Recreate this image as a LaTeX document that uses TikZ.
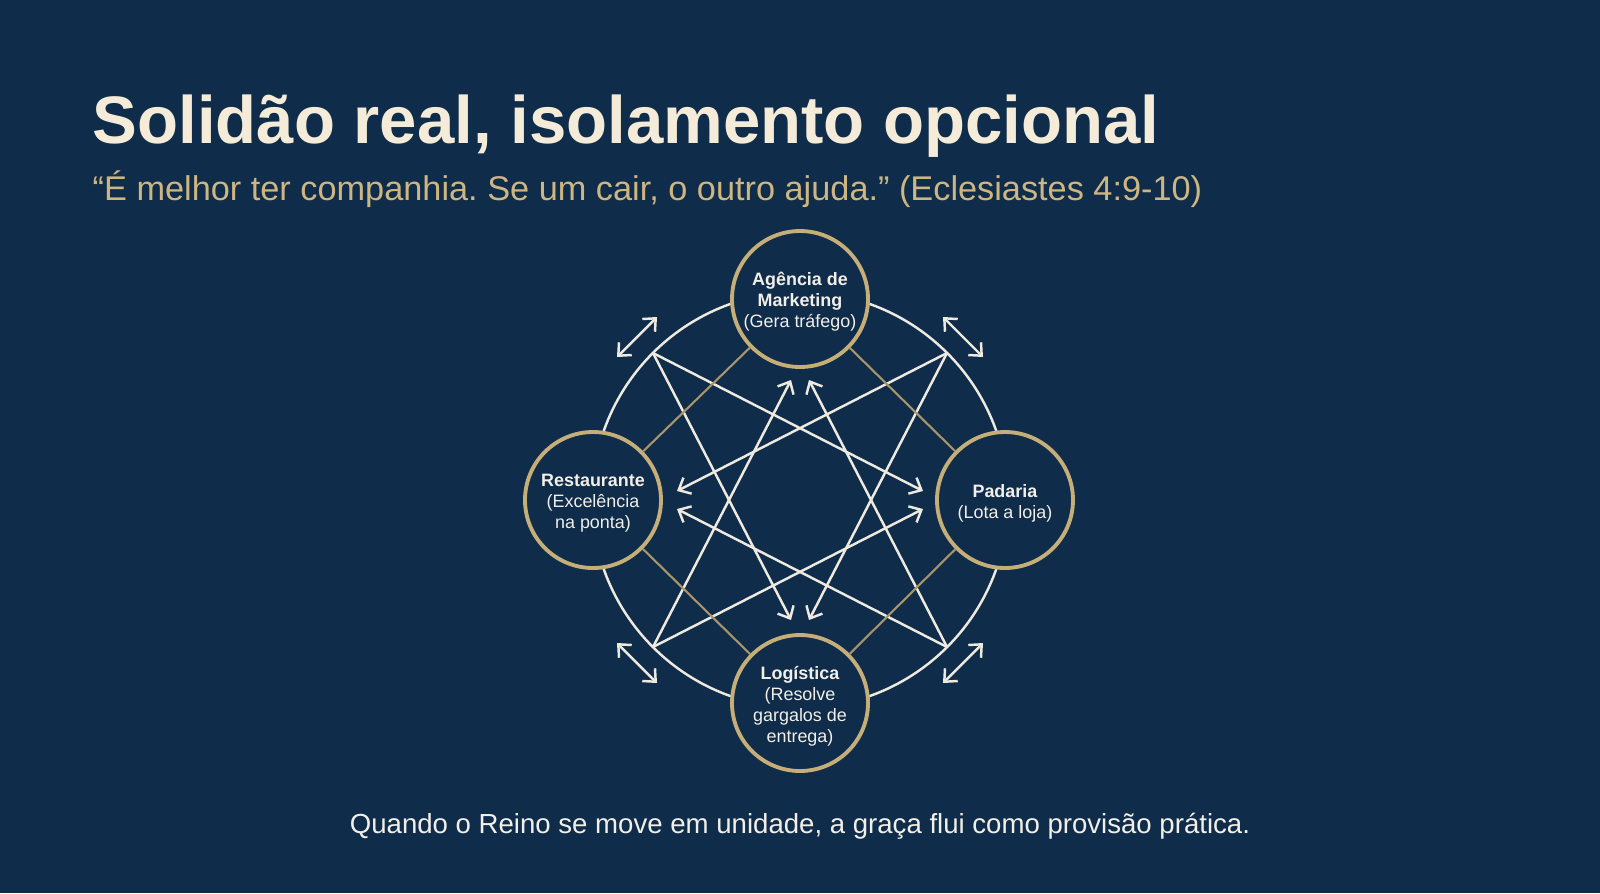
\documentclass[tikz,border=0pt]{standalone}
\usepackage{fontspec}
\setmainfont{Liberation Sans}
\usetikzlibrary{arrows.meta}
\definecolor{bg}{HTML}{0F2C4A}
\definecolor{titlecol}{HTML}{F4ECD8}
\definecolor{subcol}{HTML}{CDB681}
\definecolor{ringcol}{HTML}{C6AE78}
\definecolor{goldln}{HTML}{A8956A}
\definecolor{whiteln}{HTML}{EEEADF}
\definecolor{txtcol}{HTML}{F2EFE8}
\frenchspacing
\begin{document}
\begin{tikzpicture}[x=0.1mm,y=-0.1mm,
  hub/.style={circle, draw=ringcol, line width=1.1pt, fill=bg, minimum size=13.6mm, inner sep=0pt,
    align=center, text=txtcol, font=\fontsize{5.1pt}{6pt}\selectfont},
  goldlink/.style={draw=goldln, line width=0.6pt},
  wline/.style={draw=whiteln, line width=0.7pt},
  onetip/.style={-{Straight Barb[length=1mm,width=1.8mm]}},
  twotip/.style={{Straight Barb[length=1mm,width=1.8mm]}-{Straight Barb[length=1mm,width=1.8mm]}}
]
\fill[bg] (0,0) rectangle (1600,893);
\useasboundingbox (0,0) rectangle (1600,893);

% texts
\node[anchor=base west, inner sep=0pt, text=titlecol, font=\fontsize{19.1pt}{22pt}\selectfont\bfseries] (title) at (92,143) {Solidão real, isolamento opcional};
\node[anchor=base west, inner sep=0pt, text=subcol, font=\fontsize{9.76pt}{12pt}\selectfont] (sub) at (92,200) {“É melhor ter companhia. Se um cair, o outro ajuda.” (Eclesiastes 4:9-10)};
\node[anchor=base, inner sep=0pt, text=txtcol, font=\fontsize{7.85pt}{10pt}\selectfont] (foot) at (800,833) {Quando o Reino se move em unidade, a graça flui como provisão prática.};

% big ring
\coordinate (c) at (800,500);
\draw[wline] (c) circle[radius=208];

% star vertices
\coordinate (vNW) at (653,353);
\coordinate (vNE) at (947,353);
\coordinate (vSW) at (653,647);
\coordinate (vSE) at (947,647);
% arrow tips
\coordinate (tNl) at (791,380);
\coordinate (tNr) at (809,380);
\coordinate (tSl) at (791,620);
\coordinate (tSr) at (809,620);
\coordinate (tWu) at (677,491);
\coordinate (tWd) at (677,509);
\coordinate (tEu) at (923,491);
\coordinate (tEd) at (923,509);

\draw[wline,onetip] (vNW) -- (tEu);
\draw[wline,onetip] (vNW) -- (tSl);
\draw[wline,onetip] (vNE) -- (tWu);
\draw[wline,onetip] (vNE) -- (tSr);
\draw[wline,onetip] (vSW) -- (tNl);
\draw[wline,onetip] (vSW) -- (tEd);
\draw[wline,onetip] (vSE) -- (tNr);
\draw[wline,onetip] (vSE) -- (tWd);

% outer double arrows
\coordinate (dNWa) at (617,357); \coordinate (dNWb) at (657,317);
\coordinate (dNEa) at (943,317); \coordinate (dNEb) at (983,357);
\coordinate (dSWa) at (617,643); \coordinate (dSWb) at (657,683);
\coordinate (dSEa) at (943,683); \coordinate (dSEb) at (983,643);
\draw[wline,twotip] (dNWa) -- (dNWb);
\draw[wline,twotip] (dNEa) -- (dNEb);
\draw[wline,twotip] (dSWa) -- (dSWb);
\draw[wline,twotip] (dSEa) -- (dSEb);

% hubs
\node[hub] (N) at (800,299) {\rule{0pt}{1.9mm}\textbf{Agência de}\\\textbf{Marketing}\\(Gera tráfego)};
\node[hub] (W) at (593,500) {\rule{0pt}{1.9mm}\textbf{Restaurante}\\(Excelência\\na ponta)};
\node[hub] (E) at (1005,500) {\rule{0pt}{1.9mm}\textbf{Padaria}\\(Lota a loja)};
\node[hub] (S) at (800,703) {\rule{0pt}{1.9mm}\textbf{Logística}\\(Resolve\\gargalos de\\entrega)};

% gold links
\draw[goldlink] (N) -- (W);
\draw[goldlink] (N) -- (E);
\draw[goldlink] (S) -- (W);
\draw[goldlink] (S) -- (E);
\end{tikzpicture}
\end{document}
